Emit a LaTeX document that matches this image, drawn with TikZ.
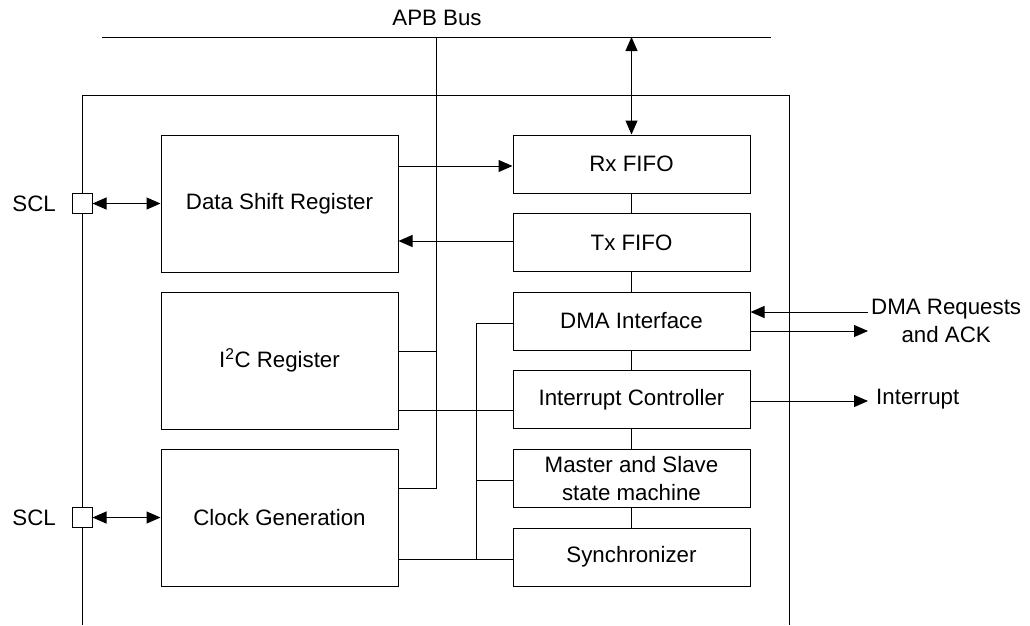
\documentclass[tikz,border=0pt]{standalone}
\usepackage{fontspec}
\setmainfont{Liberation Sans}
\usetikzlibrary{arrows.meta}
\begin{document}
\begin{tikzpicture}[x=1pt,y=-1pt,
  txt/.style={font=\fontsize{22.3}{28}\selectfont, align=center},
  box/.style={draw, fill=white, line width=1pt, inner sep=0pt, txt},
  lbox/.style={box, minimum width=237pt, minimum height=137pt},
  rbox/.style={box, minimum width=237pt, minimum height=58pt},
  pin/.style={draw, fill=white, line width=1pt, minimum size=20pt, inner sep=0pt},
  lbl/.style={txt, inner sep=0pt},
  ln/.style={line width=1pt},
  tip/.style={ln, -{Triangle[length=14pt,width=12pt]}},
  twotip/.style={ln, {Triangle[length=14pt,width=12pt]}-{Triangle[length=14pt,width=12pt]}}]
\useasboundingbox (0,0) rectangle (1030,625);
% APB bus
\node[lbl] (apb) at (437,18) {APB Bus};
\coordinate (busL) at (102,37);
\coordinate (busR) at (771,37);
\draw[ln] (busL) -- (busR);
% outer frame (open at bottom)
\coordinate (oBL) at (82,625);
\coordinate (oTL) at (82,95);
\coordinate (oTR) at (789,95);
\coordinate (oBR) at (789,625);
\draw[ln] (oBL) -- (oTL) -- (oTR) -- (oBR);
% left blocks
\node[lbox] (dsr) at (279.5,203.5) {Data Shift Register};
\node[lbox] (i2c) at (279.5,360.5) {I\textsuperscript{2}C Register};
\node[lbox] (clk) at (279.5,517.5) {Clock Generation};
% right blocks
\node[rbox] (rx)   at (631.5,164)   {Rx FIFO};
\node[rbox] (tx)   at (631.5,242.5) {Tx FIFO};
\node[rbox] (dma)  at (631.5,321)   {DMA Interface};
\node[rbox] (intc) at (631.5,399.5) {Interrupt Controller};
\node[rbox] (msm)  at (631.5,478.5) {Master and Slave\\state machine};
\node[rbox] (sync) at (631.5,557)   {Synchronizer};
% pins
\node[pin] (pin1) at (82,203.5) {};
\node[pin] (pin2) at (82,517.5) {};
\node[lbl, anchor=east] (scl1) at (56,203.5) {SCL};
\node[lbl, anchor=east] (scl2) at (56,517.5) {SCL};
\draw[twotip] (pin1.east) -- (dsr.west);
\draw[twotip] (pin2.east) -- (clk.west);
% level coordinates
\coordinate (y166) at (0,166);
\coordinate (y241) at (0,241);
\coordinate (y323) at (0,323);
\coordinate (y351) at (0,351);
\coordinate (y410) at (0,410);
\coordinate (y480) at (0,480);
\coordinate (y488) at (0,488);
\coordinate (y559) at (0,559);
% bus drop line to I2C and clock gen
\coordinate (bj) at (436,37);
\coordinate (bc) at (436,488);
\coordinate (bi) at (436,351);
\draw[ln] (bj) -- (bc) -- (clk.east |- y488);
\draw[ln] (i2c.east |- y351) -- (bi);
% APB to Rx FIFO
\coordinate (brx) at (631.5,37);
\draw[twotip] (brx) -- (rx.north);
% data paths
\draw[tip] (dsr.east |- y166) -- (rx.west |- y166);
\draw[tip] (tx.west |- y241) -- (dsr.east |- y241);
% right spine
\draw[ln] (rx.south) -- (tx.north);
\draw[ln] (tx.south) -- (dma.north);
\draw[ln] (dma.south) -- (intc.north);
\draw[ln] (intc.south) -- (msm.north);
\draw[ln] (msm.south) -- (sync.north);
% internal control bus
\coordinate (cT) at (476,323);
\coordinate (cM) at (476,480);
\coordinate (cB) at (476,559);
\draw[ln] (dma.west |- y323) -- (cT) -- (cB);
\draw[ln] (cM) -- (msm.west |- y480);
\draw[ln] (clk.east |- y559) -- (sync.west |- y559);
\draw[ln] (i2c.east |- y410) -- (intc.west |- y410);
% external signals
\coordinate (dmaIn) at (868,312);
\coordinate (dmaOut) at (868,331);
\coordinate (intOut) at (868,401);
\draw[tip] (dmaIn) -- (dma.east |- dmaIn);
\draw[tip] (dma.east |- dmaOut) -- (dmaOut);
\draw[tip] (intc.east |- intOut) -- (intOut);
\node[lbl, anchor=west] (dmatxt) at (871,321) {DMA Requests\\and ACK};
\node[lbl, anchor=west] (inttxt) at (876,399) {Interrupt};
\end{tikzpicture}
\end{document}
